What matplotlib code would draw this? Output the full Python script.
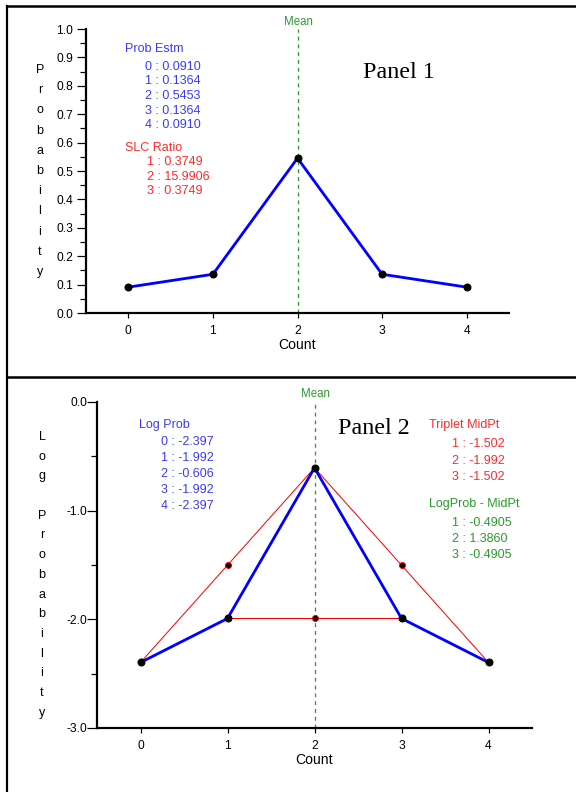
import matplotlib
matplotlib.use("Agg")
import matplotlib.pyplot as plt
from matplotlib.lines import Line2D

# ---------------- data ----------------
counts = [0, 1, 2, 3, 4]
prob_estm = [0.0910, 0.1364, 0.5453, 0.1364, 0.0910]
slc_idx = [1, 2, 3]
slc_ratio = ["0.3749", "15.9906", "0.3749"]
log_prob = [-2.397, -1.992, -0.606, -1.992, -2.397]
mid_idx = [1, 2, 3]
triplet_mid = [-1.502, -1.992, -1.502]
lp_minus_mid = ["-0.4905", "1.3860", "-0.4905"]
mean_count = 2
p1_yticks = [0.0, 0.1, 0.2, 0.3, 0.4, 0.5, 0.6, 0.7, 0.8, 0.9, 1.0]
p2_yticks = [0.0, -1.0, -2.0, -3.0]

W, H = 576, 792
fig = plt.figure(figsize=(W / 72, H / 72), dpi=72)
plt.rcParams['font.family'] = ['Liberation Sans', 'DejaVu Sans']

BLUE_T = '#3a3aff'
RED_T = '#ff2a2a'
GREEN_T = '#2e9a2e'
FS = 12.5


def ftxt(x, y, s, **kw):
    kw.setdefault('va', 'center')
    return fig.text(x / W, 1 - y / H, s, **kw)


def axes_px(l, t, r, b):
    return fig.add_axes([l / W, 1 - b / H, (r - l) / W, (b - t) / H])


def style_axes(ax):
    for s in ('top', 'right'):
        ax.spines[s].set_visible(False)
    for s in ('left', 'bottom'):
        ax.spines[s].set_linewidth(2.2)
    ax.set_xticks(counts)
    ax.set_xticklabels([str(c) for c in counts])
    ax.tick_params(axis='x', length=5, width=1.2, labelsize=12, pad=7)
    ax.set_xlabel('Count', fontsize=14, labelpad=1)
    ax.patch.set_alpha(0)


# ---------- frame lines ----------
fig.add_artist(Line2D([7 / W, 7 / W], [0, 1 - 6 / H], color='black', lw=2.2))
fig.add_artist(Line2D([7 / W, 1], [1 - 6 / H, 1 - 6 / H], color='black', lw=2.5))
fig.add_artist(Line2D([7 / W, 1], [1 - 377 / H, 1 - 377 / H], color='black', lw=2.5))

# ---------------- Panel 1 ----------------
ax1 = axes_px(86, 29, 509, 313)
ax1.set_xlim(-0.5, 4.5)
ax1.set_ylim(0.0, 1.0)
style_axes(ax1)
ax1.set_yticks(p1_yticks)
ax1.set_yticklabels([f"{v:.1f}" for v in p1_yticks])
ax1.set_yticks([v + 0.05 for v in p1_yticks[:-1]], minor=True)
ax1.tick_params(axis='y', which='major', length=9, width=1.2, labelsize=12, pad=4)
ax1.tick_params(axis='y', which='minor', length=6, width=1.2)
ax1.axvline(mean_count, color='#2ca02c', ls=(0, (3, 3)), lw=1.3, ymax=1.0, clip_on=False)
ax1.plot(counts, prob_estm, color='#0000ff', lw=2.8, marker='o', ms=7,
         mfc='black', mec='black', zorder=3)

ftxt(298, 22, 'Mean', color=GREEN_T, fontsize=11.5, ha='center')
ftxt(363, 73, 'Panel 1', fontsize=24, family='Liberation Serif', ha='left')

ftxt(125, 49, 'Prob Estm', color=BLUE_T, fontsize=FS, ha='left')
for i, (c, p) in enumerate(zip(counts, prob_estm)):
    ftxt(145, 67 + i * 14.5, f"{c} : {p:.4f}", color=BLUE_T, fontsize=FS, ha='left')
ftxt(125, 148, 'SLC Ratio', color=RED_T, fontsize=FS, ha='left')
for i, (c, r) in enumerate(zip(slc_idx, slc_ratio)):
    ftxt(147, 162 + i * 14.5, f"{c} : {r}", color=RED_T, fontsize=FS, ha='left')

for i, ch in enumerate('Probability'):
    if ch != ' ':
        ftxt(40, 70 + i * 20.2, ch, fontsize=12.5, ha='center')

# ---------------- Panel 2 ----------------
ax2 = axes_px(97, 402, 532, 728)
ax2.set_xlim(-0.5, 4.5)
ax2.set_ylim(-3.0, 0.0)
style_axes(ax2)
ax2.set_yticks(p2_yticks)
ax2.set_yticklabels([f"{v:.1f}" for v in p2_yticks])
ax2.set_yticks([-0.5, -1.5, -2.5], minor=True)
ax2.tick_params(axis='y', which='major', length=10, width=1.2, labelsize=12, pad=0)
ax2.tick_params(axis='y', which='minor', length=6, width=1.2)
ax2.axvline(mean_count, color='#2ca02c', ls=(0, (3, 3)), lw=1.3, clip_on=False)

# red triplet lines: from point i-1 to point i+1 through the midpoint
for m in mid_idx:
    ax2.plot([counts[m - 1], counts[m + 1]], [log_prob[m - 1], log_prob[m + 1]],
             color='#ff0000', lw=1.0, zorder=2)
ax2.plot(mid_idx, triplet_mid, ls='none', marker='o', ms=6, mfc='black',
         mec='#ff0000', mew=1.0, zorder=4)
ax2.plot(counts, log_prob, color='#0000ff', lw=2.8, marker='o', ms=7,
         mfc='black', mec='black', zorder=3)

ftxt(315, 394, 'Mean', color=GREEN_T, fontsize=11.5, ha='center')
ftxt(338, 428, 'Panel 2', fontsize=24, family='Liberation Serif', ha='left')

ftxt(139, 425, 'Log Prob', color=BLUE_T, fontsize=FS, ha='left')
for i, (c, v) in enumerate(zip(counts, log_prob)):
    ftxt(161, 442 + i * 16, f"{c} : {v:.3f}", color=BLUE_T, fontsize=FS, ha='left')

ftxt(429, 425, 'Triplet MidPt', color=RED_T, fontsize=FS, ha='left')
for i, (c, v) in enumerate(zip(mid_idx, triplet_mid)):
    ftxt(452, 444 + i * 16.5, f"{c} : {v:.3f}", color=RED_T, fontsize=FS, ha='left')

ftxt(429, 504, 'LogProb - MidPt', color=GREEN_T, fontsize=FS, ha='left')
for i, (c, v) in enumerate(zip(mid_idx, lp_minus_mid)):
    ftxt(452, 523 + i * 16, f"{c} : {v}", color=GREEN_T, fontsize=FS, ha='left')

for i, ch in enumerate('Log Probability'):
    if ch != ' ':
        ftxt(42, 437 + i * 19.7, ch, fontsize=12.5, ha='center')

fig.savefig('out.png', dpi=72)
